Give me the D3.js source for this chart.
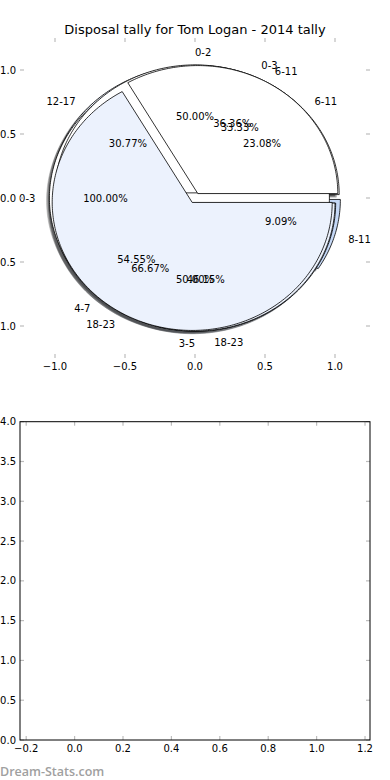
<!DOCTYPE html>
<html>
<head>
<meta charset="utf-8">
<script src="https://cdn.jsdelivr.net/npm/d3@7"></script>
<style>
  body { margin: 0; background: #fff; }
  svg { display: block; font-family: "DejaVu Sans", sans-serif; }
</style>
</head>
<body>
<svg id="chart" width="390" height="780"></svg>
<script>
// data: several pies were drawn into the same axes, in this order
const pieLabels = [
    ["0-3", "4-7", "8-11"],
    ["6-11", "12-17", "18-23"],
    ["0-3"],
    ["0-2", "3-5"],
    ["6-11", "18-23"]
];
const pieValues = [
    [4, 6, 1],
    [3, 4, 6],
    [1],
    [1, 1],
    [1, 2]
];
const wedgeColors = ["#ffffff", "#ecf2fd", "#c5d8f6"];
const explode = 0.04;
const shadowOffset = -0.02;

const pieTicks = [-1.0, -0.5, 0.0, 0.5, 1.0];
const bottomXTicks = [-0.2, 0.0, 0.2, 0.4, 0.6, 0.8, 1.0, 1.2];
const bottomYTicks = [0.0, 0.5, 1.0, 1.5, 2.0, 2.5, 3.0, 3.5, 4.0];

const svg = d3.select('#chart');
const fmt = d3.format('.1f');

// title
svg.append('text')
    .attr('x', 195).attr('y', 34)
    .attr('text-anchor', 'middle')
    .attr('font-size', 13)
    .text('Disposal tally for Tom Logan - 2014 tally');

// Pie axes (no frame, only ticks)
const px = d3.scaleLinear([-1.25, 1.25], [20, 370]);
const py = d3.scaleLinear([-1.25, 1.25], [358, 38]);

function wedgePath(cx, cy, a0, a1, full) {
    const n = Math.max(8, Math.ceil((a1 - a0) / (Math.PI / 180)));
    const pts = d3.range(n + 1).map(i => {
        const t = a0 + (a1 - a0) * i / n;
        return [px(cx + Math.cos(t)), py(cy + Math.sin(t))];
    });
    if (!full) pts.unshift([px(cx), py(cy)]);
    return d3.line()(pts) + 'Z';
}

function darken(c) {
    const r = d3.rgb(c);
    return d3.rgb(r.r * 0.3, r.g * 0.3, r.b * 0.3).toString();
}

const pieGen = d3.pie().sort(null).startAngle(0).endAngle(2 * Math.PI);
const shadowLayer = svg.append('g');
const wedgeLayer = svg.append('g');
const textLayer = svg.append('g').attr('font-size', 10);

pieValues.forEach((vals, p) => {
    const total = d3.sum(vals);
    const arcs = pieGen(vals);
    arcs.forEach((a, i) => {
        // matplotlib style: angles counterclockwise from 3 o'clock
        const mid = (a.startAngle + a.endAngle) / 2;
        const cx = explode * Math.cos(mid);
        const cy = explode * Math.sin(mid);
        const full = vals.length === 1;
        const col = wedgeColors[i % wedgeColors.length];

        // shadow below every wedge
        shadowLayer.append('path')
            .attr('d', wedgePath(cx + shadowOffset, cy + shadowOffset, a.startAngle, a.endAngle, full))
            .attr('fill', darken(col))
            .attr('stroke', darken(col))
            .attr('stroke-width', 0.5)
            .attr('opacity', 0.5);

        wedgeLayer.append('path')
            .attr('d', wedgePath(cx, cy, a.startAngle, a.endAngle, full))
            .attr('fill', col)
            .attr('stroke', '#000')
            .attr('stroke-width', 0.8)
            .attr('stroke-linejoin', 'round');

        const lx = cx + 1.1 * Math.cos(mid);
        const ly = cy + 1.1 * Math.sin(mid);
        textLayer.append('text')
            .attr('x', px(lx)).attr('y', py(ly))
            .attr('text-anchor', lx > 0 ? 'start' : 'end')
            .attr('dominant-baseline', 'central')
            .text(pieLabels[p][i]);

        const tx = cx + 0.6 * Math.cos(mid);
        const ty = cy + 0.6 * Math.sin(mid);
        textLayer.append('text')
            .attr('x', px(tx)).attr('y', py(ty))
            .attr('text-anchor', 'middle')
            .attr('dominant-baseline', 'central')
            .text((a.value / total * 100).toFixed(2) + '%');
    });
});

// pie axes ticks
const tickCol = '#bdbdbd';
const pieTickG = svg.append('g').attr('stroke', tickCol).attr('stroke-width', 1.2);
pieTicks.forEach(t => {
    pieTickG.append('line').attr('x1', px(t)).attr('x2', px(t)).attr('y1', 38).attr('y2', 42);
    pieTickG.append('line').attr('x1', px(t)).attr('x2', px(t)).attr('y1', 358).attr('y2', 354);
    pieTickG.append('line').attr('y1', py(t)).attr('y2', py(t)).attr('x1', 20).attr('x2', 24);
    pieTickG.append('line').attr('y1', py(t)).attr('y2', py(t)).attr('x1', 370).attr('x2', 366);
});
const pieLab = svg.append('g').attr('font-size', 10);
pieTicks.forEach(t => {
    pieLab.append('text').attr('x', px(t)).attr('y', 366)
        .attr('text-anchor', 'middle').attr('dominant-baseline', 'central').text(fmt(t));
    pieLab.append('text').attr('x', 16).attr('y', py(t))
        .attr('text-anchor', 'end').attr('dominant-baseline', 'central').text(fmt(t));
});

// bottom (empty) axes
const bx = d3.scaleLinear([-0.2256, 1.2206], [20, 370]);
const by = d3.scaleLinear([0, 4], [740, 421.7]);

const bt = svg.append('g').attr('stroke', tickCol).attr('stroke-width', 1.2);
bottomXTicks.forEach(t => {
    bt.append('line').attr('x1', bx(t)).attr('x2', bx(t)).attr('y1', 740).attr('y2', 736);
    bt.append('line').attr('x1', bx(t)).attr('x2', bx(t)).attr('y1', 421.7).attr('y2', 425.7);
});
bottomYTicks.forEach(t => {
    bt.append('line').attr('y1', by(t)).attr('y2', by(t)).attr('x1', 20).attr('x2', 24);
    bt.append('line').attr('y1', by(t)).attr('y2', by(t)).attr('x1', 370).attr('x2', 366);
});

svg.append('rect')
    .attr('x', 20).attr('y', 421.7)
    .attr('width', 350).attr('height', 740 - 421.7)
    .attr('fill', 'none').attr('stroke', '#000').attr('stroke-width', 1);

const bl = svg.append('g').attr('font-size', 10);
bottomXTicks.forEach(t => {
    bl.append('text').attr('x', bx(t)).attr('y', 748)
        .attr('text-anchor', 'middle').attr('dominant-baseline', 'central').text(fmt(t));
});
bottomYTicks.forEach(t => {
    bl.append('text').attr('x', 16).attr('y', by(t))
        .attr('text-anchor', 'end').attr('dominant-baseline', 'central').text(fmt(t));
});

// watermark
svg.append('text')
    .attr('x', 0).attr('y', 776)
    .attr('font-family', '"Open Sans", sans-serif')
    .attr('font-size', 12.5).attr('font-weight', 600)
    .attr('fill', '#a0a0a0')
    .text('Dream-Stats.com');
</script>
</body>
</html>
